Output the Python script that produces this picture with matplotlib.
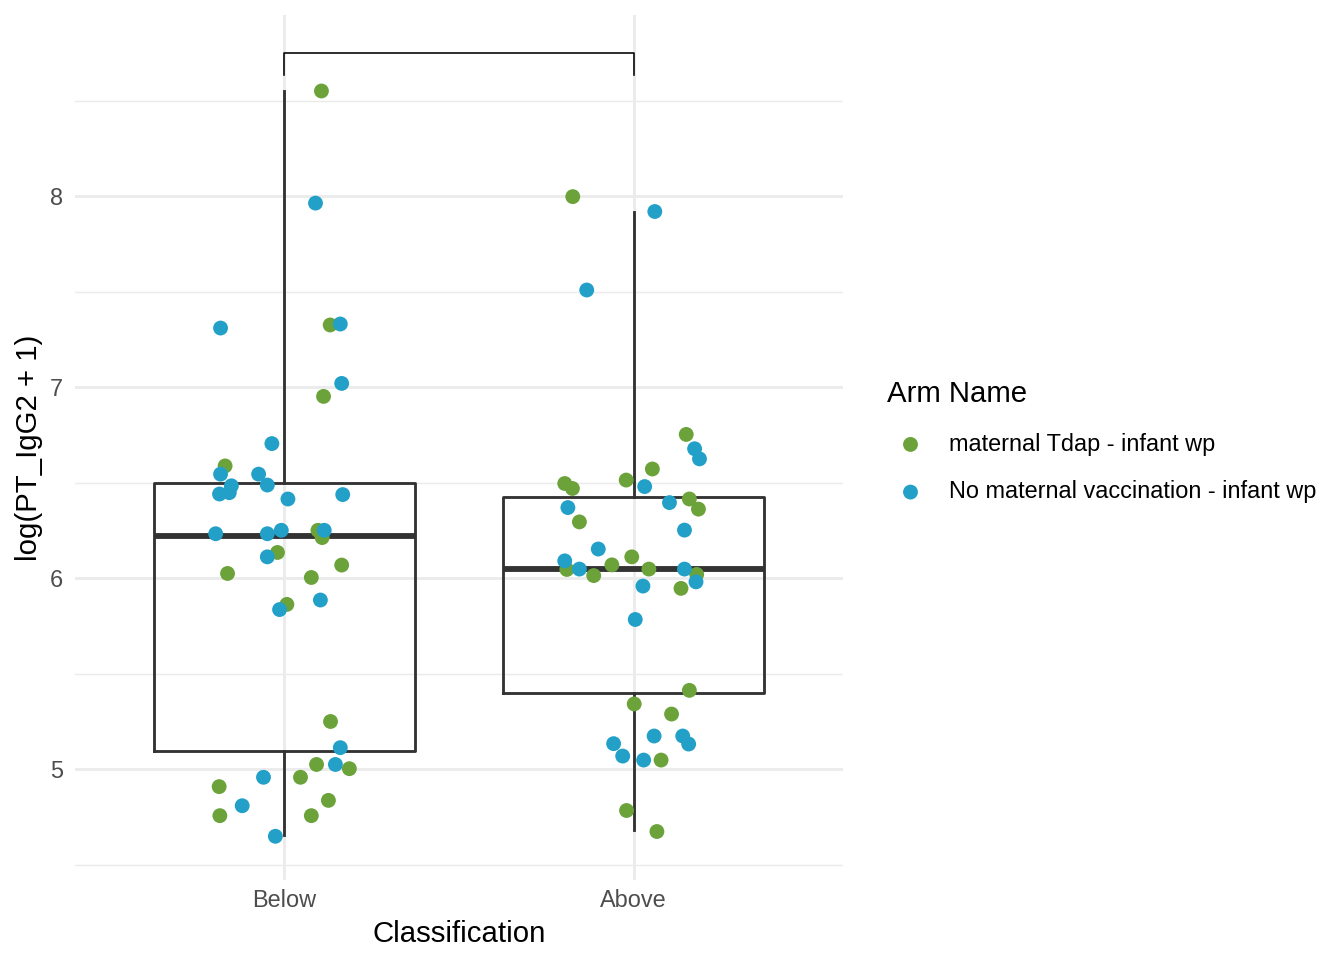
"""Boxplot with jittered points: log(PT_IgG2 + 1) by classification and arm."""
import matplotlib
matplotlib.use("Agg")
import matplotlib.pyplot as plt

plt.rcParams["font.family"] = ["Liberation Sans", "DejaVu Sans"]

CATEGORIES = ["Below", "Above"]
ARMS = ["maternal Tdap - infant wp", "No maternal vaccination - infant wp"]
COLORS = {"maternal Tdap - infant wp": "#6ba33a",
          "No maternal vaccination - infant wp": "#22a0c8"}

# Box statistics: (whisker low, Q1, median, Q3, whisker high)
BOX_STATS = {
    "Below": (4.655, 5.094, 6.22, 6.497, 8.55),
    "Above": (4.68, 5.398, 6.047, 6.424, 7.916),
}

# Jittered points: horizontal offset from category centre, value
BELOW_TDAP_DX = [0.106, 0.131, 0.112, -0.170, 0.096, 0.108, -0.020, -0.163,
                 0.077, 0.164, 0.007, 0.132, 0.092, 0.186, 0.046, -0.187,
                 0.126, -0.185, 0.077]
BELOW_TDAP_Y = [8.55, 7.325, 6.951, 6.587, 6.25, 6.212, 6.134, 6.024,
                6.003, 6.068, 5.862, 5.249, 5.024, 5.002, 4.957, 4.908,
                4.836, 4.756, 4.756]

BELOW_NONE_DX = [0.089, -0.183, 0.160, 0.164, -0.036, -0.183, -0.074, -0.152,
                 -0.049, -0.186, -0.158, 0.010, 0.167, -0.197, -0.049, -0.009,
                 0.114, -0.049, 0.103, -0.014, 0.160, 0.146, -0.060, -0.121,
                 -0.026]
BELOW_NONE_Y = [7.963, 7.309, 7.33, 7.019, 6.704, 6.544, 6.544, 6.483,
                6.487, 6.44, 6.447, 6.414, 6.437, 6.232, 6.232, 6.25,
                6.25, 6.111, 5.885, 5.835, 5.112, 5.024, 4.957, 4.808, 4.648]

ABOVE_TDAP_DX = [-0.174, 0.151, 0.054, -0.021, -0.197, -0.175, 0.160, 0.186,
                 -0.155, -0.191, -0.114, -0.062, -0.005, 0.044, 0.181, 0.136,
                 0.160, 0.002, 0.109, 0.079, -0.020, 0.067]
ABOVE_TDAP_Y = [7.997, 6.752, 6.571, 6.513, 6.495, 6.469, 6.414, 6.361,
                6.294, 6.045, 6.013, 6.069, 6.111, 6.047, 6.019, 5.946,
                5.412, 5.341, 5.288, 5.047, 4.783, 4.673]

ABOVE_NONE_DX = [0.061, -0.134, 0.175, 0.189, 0.032, 0.103, -0.188, 0.146,
                 -0.101, -0.197, -0.155, 0.146, 0.179, 0.027, 0.005, 0.059,
                 -0.057, 0.141, 0.158, -0.031, 0.029]
ABOVE_NONE_Y = [7.919, 7.508, 6.677, 6.624, 6.479, 6.395, 6.369, 6.251,
                6.152, 6.09, 6.047, 6.047, 5.98, 5.958, 5.783, 5.173,
                5.133, 5.173, 5.131, 5.068, 5.047]

POINTS = [
    ("Below", ARMS[0], BELOW_TDAP_DX, BELOW_TDAP_Y),
    ("Below", ARMS[1], BELOW_NONE_DX, BELOW_NONE_Y),
    ("Above", ARMS[0], ABOVE_TDAP_DX, ABOVE_TDAP_Y),
    ("Above", ARMS[1], ABOVE_NONE_DX, ABOVE_NONE_Y),
]

Y_MAJOR = [5, 6, 7, 8]
Y_MINOR = [4.5, 5.5, 6.5, 7.5, 8.5]
BRACKET_Y = 8.749
BRACKET_TIP = 8.634

fig = plt.figure(figsize=(7, 5), dpi=192)
ax = fig.add_axes([0.0558, 0.0833, 0.5714, 0.9011])

grid_col = "#ebebeb"
for y in Y_MAJOR:
    ax.axhline(y, color=grid_col, lw=1.07, zorder=0)
for y in Y_MINOR:
    ax.axhline(y, color=grid_col, lw=0.53, zorder=0)
for i in range(len(CATEGORIES)):
    ax.axvline(i + 1, color=grid_col, lw=1.07, zorder=0)

stats = []
for cat in CATEGORIES:
    lo, q1, med, q3, hi = BOX_STATS[cat]
    stats.append(dict(whislo=lo, q1=q1, med=med, q3=q3, whishi=hi, fliers=[]))
ax.bxp(stats, positions=[1, 2], widths=0.75, showcaps=False, showfliers=False,
       boxprops=dict(color="#333333", lw=1.07),
       whiskerprops=dict(color="#333333", lw=1.07),
       medianprops=dict(color="#333333", lw=2.2),
       manage_ticks=False, zorder=2)

handles = {}
for cat, arm, dx, ys in POINTS:
    xc = CATEGORIES.index(cat) + 1
    sc = ax.scatter([xc + d for d in dx], ys, s=31, color=COLORS[arm],
                    edgecolors="none", zorder=3, label=arm)
    handles[arm] = sc

# significance bracket
ax.plot([1, 1, 2, 2], [BRACKET_TIP, BRACKET_Y, BRACKET_Y, BRACKET_TIP],
        color="black", lw=0.6, zorder=4)

ax.set_xlim(0.4, 2.6)
ax.set_ylim(4.419, 8.948)
ax.set_xticks([1, 2])
ax.set_xticklabels(CATEGORIES)
ax.set_yticks(Y_MAJOR)
ax.tick_params(length=0, labelsize=8.8, labelcolor="#4d4d4d")
ax.tick_params(axis="x", pad=3.5)
ax.tick_params(axis="y", pad=4.5)
for s in ax.spines.values():
    s.set_visible(False)
ax.set_xlabel("Classification", fontsize=11, labelpad=3)
ax.set_ylabel("log(PT_IgG2 + 1)", fontsize=11, labelpad=2.5)

leg = ax.legend([handles[a] for a in ARMS], ARMS, title="Arm Name",
                loc="center left", bbox_to_anchor=(0.651, 0.540),
                bbox_transform=fig.transFigure, frameon=False,
                fontsize=8.8, title_fontsize=11, alignment="left",
                handletextpad=0.62, labelspacing=1.05, borderpad=0,
                handlelength=2.03, markerscale=1.0)

fig.savefig("out.png", dpi=192)
